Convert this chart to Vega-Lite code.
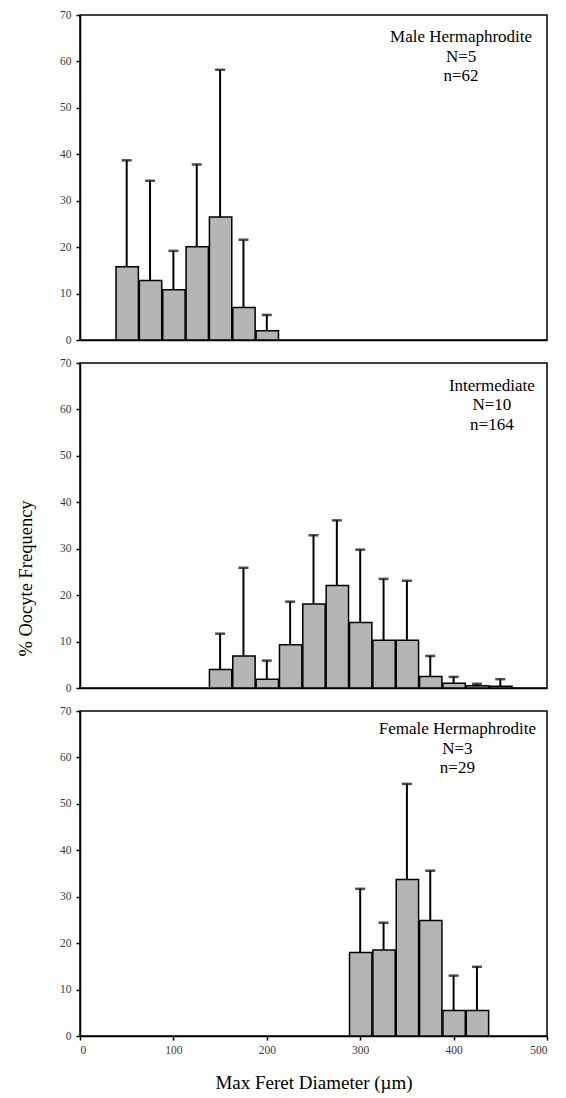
{
  "$schema": "https://vega.github.io/schema/vega-lite/v6.json",
  "padding": {"left": 15, "top": 8, "right": 5, "bottom": 0},
  "background": "white",
  "config": {
    "font": "Liberation Serif",
    "view": {"stroke": "black", "strokeWidth": 1.5},
    "axis": {
      "grid": false,
      "domainColor": "black",
      "domainWidth": 1.5,
      "tickColor": "black",
      "tickWidth": 1.5,
      "tickSize": 4,
      "labelFont": "Liberation Serif",
      "labelFontSize": 11.5,
      "labelColor": "#3a3a3a",
      "labelPadding": 5,
      "titleFont": "Liberation Serif",
      "titleFontWeight": "normal",
      "titleColor": "black"
    }
  },
  "datasets": {
    "hist": [
      {"group": "male", "diameter": 50, "pct": 15.8, "upper": 38.7},
      {"group": "male", "diameter": 75, "pct": 12.8, "upper": 34.3},
      {"group": "male", "diameter": 100, "pct": 10.8, "upper": 19.2},
      {"group": "male", "diameter": 125, "pct": 20.1, "upper": 37.8},
      {"group": "male", "diameter": 150, "pct": 26.5, "upper": 58.2},
      {"group": "male", "diameter": 175, "pct": 7.0, "upper": 21.6},
      {"group": "male", "diameter": 200, "pct": 2.0, "upper": 5.4},
      {"group": "inter", "diameter": 150, "pct": 4.0, "upper": 11.7},
      {"group": "inter", "diameter": 175, "pct": 6.9, "upper": 25.9},
      {"group": "inter", "diameter": 200, "pct": 1.9, "upper": 5.9},
      {"group": "inter", "diameter": 225, "pct": 9.3, "upper": 18.6},
      {"group": "inter", "diameter": 250, "pct": 18.1, "upper": 32.9},
      {"group": "inter", "diameter": 275, "pct": 22.1, "upper": 36.1},
      {"group": "inter", "diameter": 300, "pct": 14.1, "upper": 29.8},
      {"group": "inter", "diameter": 325, "pct": 10.3, "upper": 23.5},
      {"group": "inter", "diameter": 350, "pct": 10.3, "upper": 23.1},
      {"group": "inter", "diameter": 375, "pct": 2.5, "upper": 6.9},
      {"group": "inter", "diameter": 400, "pct": 1.0, "upper": 2.4},
      {"group": "inter", "diameter": 425, "pct": 0.5, "upper": 0.9},
      {"group": "inter", "diameter": 450, "pct": 0.4, "upper": 1.9},
      {"group": "female", "diameter": 300, "pct": 18.0, "upper": 31.7},
      {"group": "female", "diameter": 325, "pct": 18.5, "upper": 24.4},
      {"group": "female", "diameter": 350, "pct": 33.7, "upper": 54.3},
      {"group": "female", "diameter": 375, "pct": 24.9, "upper": 35.6},
      {"group": "female", "diameter": 400, "pct": 5.5, "upper": 13.0},
      {"group": "female", "diameter": 425, "pct": 5.5, "upper": 14.9}
    ]
  },
  "spacing": 9,
  "vconcat": [
    {
      "width": 467,
      "height": 325,
      "layer": [
        {
          "data": {"name": "hist"},
          "transform": [{"filter": "datum.group === 'male'"}],
          "layer": [
            {
              "mark": {"type": "bar", "fill": "#b5b5b5", "stroke": "black", "strokeWidth": 1.5},
              "encoding": {
                "x": {"field": "diameter", "type": "quantitative", "bin": {"step": 25, "anchor": 12.5, "extent": [0, 500]},
                      "scale": {"domain": [0, 500], "nice": false},
                      "axis": {"values": [0, 100, 200, 300, 400, 500], "labels": false, "ticks": false, "title": null}},
                "y": {"field": "pct", "type": "quantitative", "scale": {"domain": [0, 70], "nice": false},
                      "axis": {"values": [0, 10, 20, 30, 40, 50, 60, 70], "title": null}}
              }
            },
            {
              "mark": {"type": "rule", "color": "black", "strokeWidth": 2},
              "encoding": {
                "x": {"field": "diameter", "type": "quantitative"},
                "y": {"field": "pct", "type": "quantitative"},
                "y2": {"field": "upper"}
              }
            },
            {
              "mark": {"type": "tick", "orient": "horizontal", "color": "black", "size": 10, "thickness": 2.5},
              "encoding": {
                "x": {"field": "diameter", "type": "quantitative"},
                "y": {"field": "upper", "type": "quantitative"}
              }
            }
          ]
        },
        {
          "data": {"values": [{"label": ["Male Hermaphrodite", "N=5", "n=62"]}]},
          "mark": {"type": "text", "align": "center", "baseline": "alphabetic", "fontSize": 17, "lineHeight": 19.5, "font": "Liberation Serif", "color": "black"},
          "encoding": {
            "x": {"datum": 408, "type": "quantitative"},
            "y": {"datum": 64.1, "type": "quantitative"},
            "text": {"field": "label"}
          }
        }
      ]
    },
    {
      "width": 467,
      "height": 325,
      "layer": [
        {
          "data": {"name": "hist"},
          "transform": [{"filter": "datum.group === 'inter'"}],
          "layer": [
            {
              "mark": {"type": "bar", "fill": "#b5b5b5", "stroke": "black", "strokeWidth": 1.5},
              "encoding": {
                "x": {"field": "diameter", "type": "quantitative", "bin": {"step": 25, "anchor": 12.5, "extent": [0, 500]},
                      "scale": {"domain": [0, 500], "nice": false},
                      "axis": {"values": [0, 100, 200, 300, 400, 500], "labels": false, "ticks": false, "title": null}},
                "y": {"field": "pct", "type": "quantitative", "scale": {"domain": [0, 70], "nice": false},
                      "axis": {"values": [0, 10, 20, 30, 40, 50, 60, 70], "title": "% Oocyte Frequency",
                               "titleFontSize": 18.5, "titleX": -55, "titleY": 215, "titleBaseline": "middle", "titleAngle": -90}}
              }
            },
            {
              "mark": {"type": "rule", "color": "black", "strokeWidth": 2},
              "encoding": {
                "x": {"field": "diameter", "type": "quantitative"},
                "y": {"field": "pct", "type": "quantitative"},
                "y2": {"field": "upper"}
              }
            },
            {
              "mark": {"type": "tick", "orient": "horizontal", "color": "black", "size": 10, "thickness": 2.5},
              "encoding": {
                "x": {"field": "diameter", "type": "quantitative"},
                "y": {"field": "upper", "type": "quantitative"}
              }
            }
          ]
        },
        {
          "data": {"values": [{"label": ["Intermediate", "N=10", "n=164"]}]},
          "mark": {"type": "text", "align": "center", "baseline": "alphabetic", "fontSize": 17, "lineHeight": 19.5, "font": "Liberation Serif", "color": "black"},
          "encoding": {
            "x": {"datum": 441, "type": "quantitative"},
            "y": {"datum": 64.0, "type": "quantitative"},
            "text": {"field": "label"}
          }
        }
      ]
    },
    {
      "width": 467,
      "height": 325,
      "layer": [
        {
          "data": {"name": "hist"},
          "transform": [{"filter": "datum.group === 'female'"}],
          "layer": [
            {
              "mark": {"type": "bar", "fill": "#b5b5b5", "stroke": "black", "strokeWidth": 1.5},
              "encoding": {
                "x": {"field": "diameter", "type": "quantitative", "bin": {"step": 25, "anchor": 12.5, "extent": [0, 500]},
                      "scale": {"domain": [0, 500], "nice": false},
                      "axis": {"values": [0, 100, 200, 300, 400, 500], "title": "Max Feret Diameter (µm)",
                               "titleFontSize": 19, "titlePadding": 18, "labelPadding": 4}},
                "y": {"field": "pct", "type": "quantitative", "scale": {"domain": [0, 70], "nice": false},
                      "axis": {"values": [0, 10, 20, 30, 40, 50, 60, 70], "title": null}}
              }
            },
            {
              "mark": {"type": "rule", "color": "black", "strokeWidth": 2},
              "encoding": {
                "x": {"field": "diameter", "type": "quantitative"},
                "y": {"field": "pct", "type": "quantitative"},
                "y2": {"field": "upper"}
              }
            },
            {
              "mark": {"type": "tick", "orient": "horizontal", "color": "black", "size": 10, "thickness": 2.5},
              "encoding": {
                "x": {"field": "diameter", "type": "quantitative"},
                "y": {"field": "upper", "type": "quantitative"}
              }
            }
          ]
        },
        {
          "data": {"values": [{"label": ["Female Hermaphrodite", "N=3", "n=29"]}]},
          "mark": {"type": "text", "align": "center", "baseline": "alphabetic", "fontSize": 17, "lineHeight": 19.5, "font": "Liberation Serif", "color": "black"},
          "encoding": {
            "x": {"datum": 404, "type": "quantitative"},
            "y": {"datum": 65.0, "type": "quantitative"},
            "text": {"field": "label"}
          }
        }
      ]
    }
  ]
}
